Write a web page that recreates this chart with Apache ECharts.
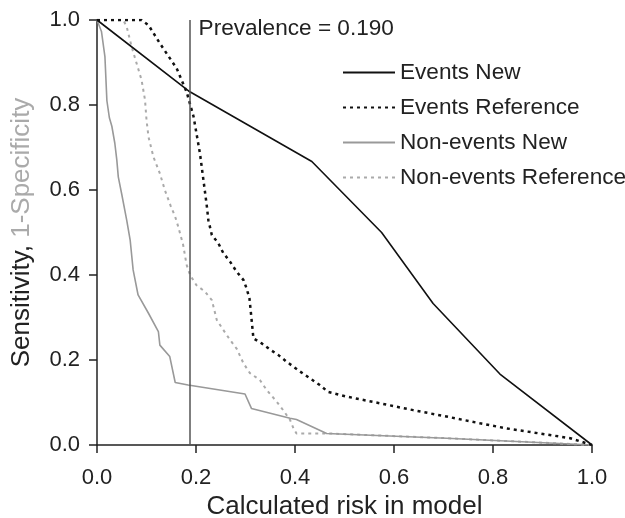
<!DOCTYPE html>
<html>
<head>
<meta charset="utf-8">
<script src="https://cdn.jsdelivr.net/npm/echarts@6/dist/echarts.min.js"></script>
<style>html,body{margin:0;padding:0;background:#fff}#c{width:625px;height:518px}</style>
</head>
<body>
<div id="c"></div>
<script>
var xTicks = [0, 0.2, 0.4, 0.6, 0.8, 1.0];
var yTicks = [0, 0.2, 0.4, 0.6, 0.8, 1.0];
var prevalence = 0.187;
var prevalenceLabel = 'Prevalence = 0.190';

var eventsNewX = [0, 0.185, 0.434, 0.575, 0.679, 0.814, 1.0];
var eventsNewY = [1, 0.833, 0.667, 0.5, 0.333, 0.167, 0];

var eventsRefX = [0, 0.09, 0.104, 0.127, 0.161, 0.181, 0.195, 0.208, 0.222, 0.225, 0.232, 0.245, 0.255, 0.269, 0.282, 0.296, 0.302, 0.308, 0.31, 0.314, 0.316, 0.333, 0.349, 0.366, 0.383, 0.41, 0.45, 0.467, 0.504, 0.572, 0.639, 0.706, 0.774, 0.828, 0.895, 0.956, 1.0];
var eventsRefY = [1, 1, 0.988, 0.945, 0.886, 0.831, 0.773, 0.686, 0.561, 0.529, 0.494, 0.475, 0.452, 0.431, 0.408, 0.388, 0.369, 0.345, 0.322, 0.275, 0.251, 0.239, 0.225, 0.212, 0.196, 0.173, 0.141, 0.125, 0.114, 0.098, 0.082, 0.067, 0.051, 0.039, 0.027, 0.016, 0];

var nonEventsNewX = [0, 0.009, 0.016, 0.02, 0.025, 0.03, 0.036, 0.04, 0.043, 0.05, 0.06, 0.067, 0.07, 0.073, 0.083, 0.104, 0.124, 0.127, 0.147, 0.158, 0.184, 0.299, 0.312, 0.39, 0.403, 0.464, 0.706, 1.0];
var nonEventsNewY = [1, 0.973, 0.914, 0.81, 0.77, 0.75, 0.71, 0.671, 0.631, 0.59, 0.529, 0.482, 0.447, 0.412, 0.353, 0.31, 0.267, 0.235, 0.208, 0.147, 0.141, 0.12, 0.086, 0.063, 0.06, 0.027, 0.016, 0];

var nonEventsRefX = [0, 0.053, 0.06, 0.07, 0.08, 0.09, 0.097, 0.1, 0.104, 0.114, 0.127, 0.137, 0.149, 0.158, 0.164, 0.174, 0.181, 0.188, 0.201, 0.218, 0.232, 0.242, 0.255, 0.269, 0.282, 0.296, 0.309, 0.329, 0.343, 0.363, 0.376, 0.39, 0.397, 0.403, 0.471, 0.706, 1.0];
var nonEventsRefY = [1, 1, 0.984, 0.937, 0.898, 0.859, 0.812, 0.765, 0.725, 0.678, 0.639, 0.6, 0.562, 0.537, 0.514, 0.471, 0.424, 0.4, 0.376, 0.361, 0.341, 0.294, 0.271, 0.247, 0.227, 0.192, 0.169, 0.153, 0.129, 0.102, 0.082, 0.059, 0.039, 0.027, 0.027, 0.016, 0];

function pairs(xs, ys) { return xs.map(function (x, i) { return [x, ys[i]]; }); }

var FONT = '"Liberation Sans", Arial, sans-serif';
var chart = echarts.init(document.getElementById('c'), null, { renderer: 'canvas' });

function axisCommon() {
  return {
    type: 'value', min: 0, max: 1, interval: 0.2,
    splitLine: { show: false },
    axisLine: { show: true, lineStyle: { color: '#222', width: 1.5 } },
    axisTick: { show: true, length: 8, lineStyle: { color: '#222', width: 1.5 } },
    axisLabel: { color: '#222', fontSize: 22, fontFamily: FONT, formatter: function (v) { return v.toFixed(1); } }
  };
}
var xAxis = axisCommon();
xAxis.name = 'Calculated risk in model';
xAxis.nameLocation = 'middle';
xAxis.nameGap = 49;
xAxis.nameTextStyle = { color: '#222', fontSize: 26, fontFamily: FONT };
xAxis.axisLabel.margin = 22;

var yAxis = axisCommon();
yAxis.name = '{a|Sensitivity,} {b|1-Specificity}';
yAxis.nameLocation = 'middle';
yAxis.nameGap = 62;
yAxis.nameTextStyle = {
  fontSize: 26, fontFamily: FONT,
  rich: { a: { color: '#222', fontSize: 26, fontFamily: FONT }, b: { color: '#aaa', fontSize: 26, fontFamily: FONT } }
};
yAxis.axisLabel.margin = 17;

var option = {
  animation: false,
  backgroundColor: '#fff',
  grid: { left: 97, right: 33, top: 20, bottom: 73, containLabel: false, outerBoundsMode: 'none' },
  legend: {
    orient: 'vertical', left: 342, top: 61, padding: 0, itemWidth: 52, itemHeight: 14, itemGap: 12,
    itemStyle: { opacity: 0 },
    textStyle: { color: '#222', fontSize: 22.6, fontFamily: FONT },
    data: ['Events New', 'Events Reference', 'Non-events New', 'Non-events Reference']
  },
  xAxis: xAxis,
  yAxis: yAxis,
  series: [
    { name: 'Events New', type: 'line', data: pairs(eventsNewX, eventsNewY), showSymbol: false, symbol: 'none',
      lineStyle: { color: '#111', width: 1.6, type: 'solid' }, itemStyle: { color: '#111' }, z: 4,
      markLine: {
        silent: true, symbol: 'none', label: { show: false },
        lineStyle: { color: '#555', width: 1.5, type: 'solid' },
        data: [[{ coord: [prevalence, 0] }, { coord: [prevalence, 1] }]]
      } },
    { name: 'Events Reference', type: 'line', data: pairs(eventsRefX, eventsRefY), showSymbol: false, symbol: 'none',
      lineStyle: { color: '#111', width: 2.5, type: [3, 4] }, itemStyle: { color: '#111' }, z: 3 },
    { name: 'Non-events New', type: 'line', data: pairs(nonEventsNewX, nonEventsNewY), showSymbol: false, symbol: 'none',
      lineStyle: { color: '#999', width: 1.6, type: 'solid' }, itemStyle: { color: '#999' }, z: 2 },
    { name: 'Non-events Reference', type: 'line', data: pairs(nonEventsRefX, nonEventsRefY), showSymbol: false, symbol: 'none',
      lineStyle: { color: '#aaa', width: 2, type: [3, 4] }, itemStyle: { color: '#aaa' }, z: 1 }
  ]
};
chart.setOption(option);

var p = chart.convertToPixel({ gridIndex: 0 }, [prevalence, 1]);
chart.setOption({
  graphic: [{
    type: 'text', left: p[0] + 9, top: p[1] - 3, silent: true,
    style: { text: prevalenceLabel, fill: '#222', fontSize: 22.6, fontFamily: FONT }
  }]
});
</script>
</body>
</html>
